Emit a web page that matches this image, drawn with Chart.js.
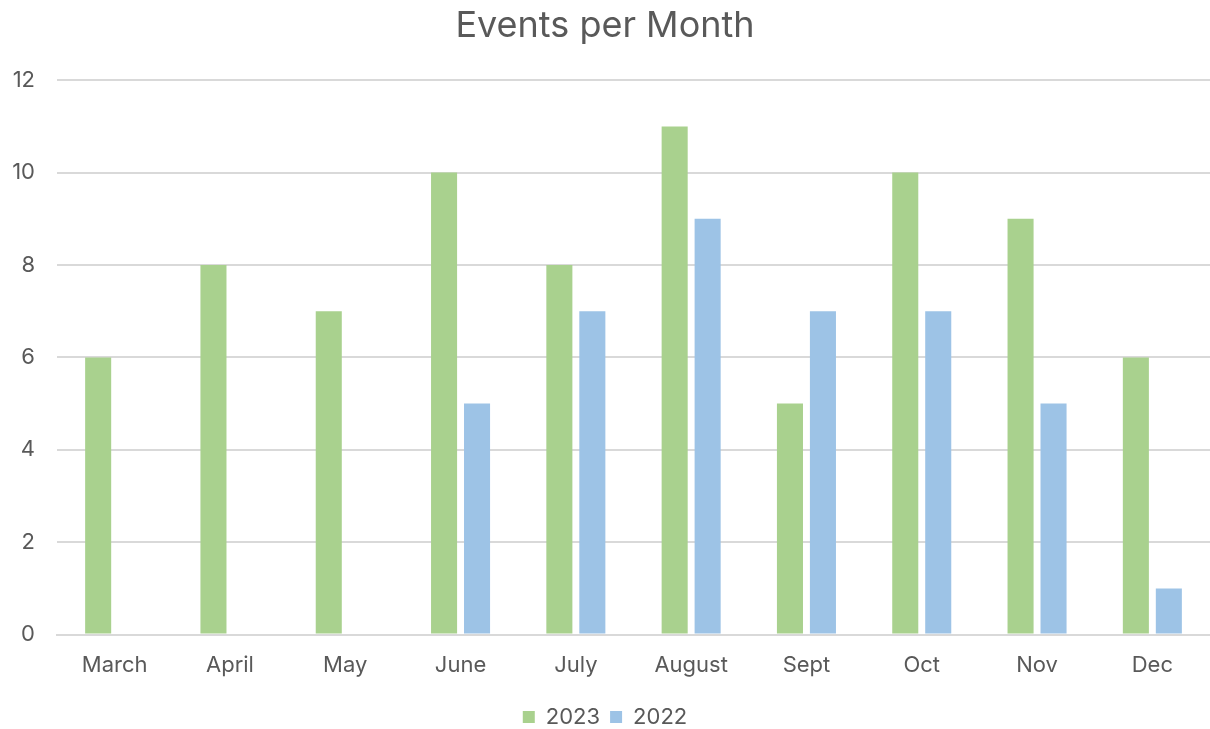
<!DOCTYPE html>
<html>
<head>
<meta charset="utf-8">
<script src="https://cdn.jsdelivr.net/npm/chart.js@4"></script>
<style>
  html, body { margin: 0; padding: 0; background: #fff; }
  #wrap { width: 1210px; height: 729px; }
</style>
</head>
<body>
<div id="wrap"><canvas id="events"></canvas></div>
<script>
// chart data
const months = ['March', 'April', 'May', 'June', 'July', 'August', 'Sept', 'Oct', 'Nov', 'Dec'];
const events2023 = [6, 8, 7, 10, 8, 11, 5, 10, 9, 6];
const events2022 = [null, null, null, 5, 7, 9, 7, 7, 5, 1];
const yTicks = [0, 2, 4, 6, 8, 10, 12];

const textColour = '#595959';
const fontFamily = 'Inter, "Open Sans", sans-serif';

const ctx = document.getElementById('events').getContext('2d');
new Chart(ctx, {
  type: 'bar',
  data: {
    labels: months,
    datasets: [{
      label: '2023',
      data: events2023,
      backgroundColor: '#A9D18E',
      categoryPercentage: 0.572,
      barPercentage: 0.79
    }, {
      label: '2022',
      data: events2022,
      backgroundColor: '#9DC3E6',
      categoryPercentage: 0.572,
      barPercentage: 0.79
    }]
  },
  options: {
    responsive: true,
    maintainAspectRatio: false,
    animation: false,
    layout: { padding: { top: 5, right: 0, bottom: -9, left: 0 } },
    plugins: {
      title: {
        display: true,
        text: 'Events per Month',
        color: textColour,
        font: { family: fontFamily, size: 36, weight: 'normal' },
        padding: { top: 0, bottom: 32 }
      },
      legend: {
        position: 'bottom',
        labels: {
          color: textColour,
          font: { family: fontFamily, size: 22 },
          boxWidth: 12,
          boxHeight: 12,
          padding: 10
        }
      },
      tooltip: { enabled: false }
    },
    scales: {
      x: {
        afterFit: (scale) => { scale.height += 7; },
        grid: { display: false },
        border: { color: '#D9D9D9', width: 2 },
        ticks: { color: textColour, font: { family: fontFamily, size: 22 }, padding: 10, maxRotation: 0 }
      },
      y: {
        min: 0,
        max: 12,
        afterFit: (scale) => { scale.width = 57; },
        afterBuildTicks: (scale) => { scale.ticks = yTicks.map(v => ({ value: v })); },
        border: { display: false },
        grid: { color: '#D9D9D9', lineWidth: 2, drawTicks: false },
        ticks: { color: textColour, font: { family: fontFamily, size: 22 }, padding: 22 }
      }
    }
  }
});
</script>
</body>
</html>
